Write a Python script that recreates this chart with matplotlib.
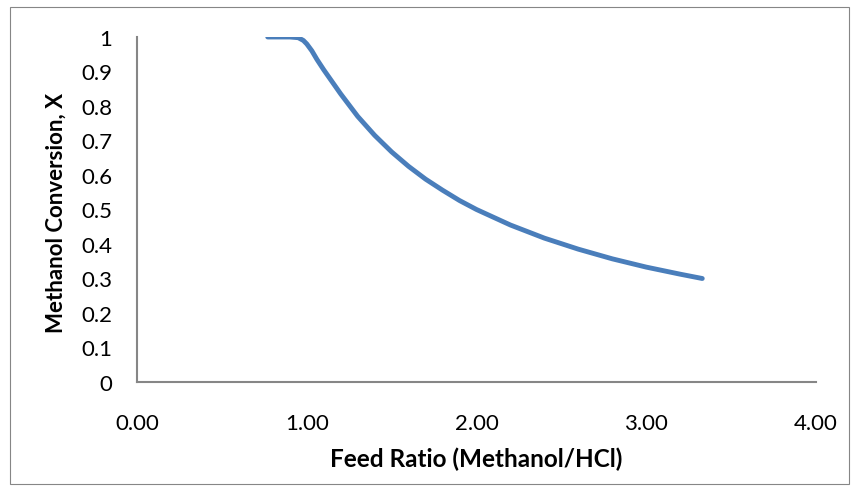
import matplotlib
matplotlib.use("Agg")
import matplotlib.pyplot as plt
from matplotlib.patches import Rectangle

# feed ratio (methanol/HCl) vs methanol conversion
feed_ratio = [0.77, 0.85, 0.90, 0.95, 0.98, 1.00, 1.03, 1.06, 1.10, 1.15, 1.20,
              1.30, 1.40, 1.50, 1.60, 1.70, 1.80, 1.90, 2.00, 2.20, 2.40, 2.60,
              2.80, 3.00, 3.20, 3.33]
conversion = [1.00, 1.00, 1.00, 0.998, 0.99, 0.98, 0.96, 0.935, 0.905, 0.87, 0.835,
              0.77, 0.715, 0.667, 0.625, 0.588, 0.556, 0.526, 0.50, 0.455, 0.417,
              0.385, 0.357, 0.333, 0.3125, 0.30]

x_ticks = [0, 1, 2, 3, 4]
y_ticks = [0, 0.1, 0.2, 0.3, 0.4, 0.5, 0.6, 0.7, 0.8, 0.9, 1.0]

plt.rcParams["font.family"] = ["Lato", "DejaVu Sans"]

W, H = 859, 489
fig = plt.figure(figsize=(W / 100, H / 100), dpi=100)
ax = fig.add_axes([137 / W, 1 - 383 / H, (816 - 137) / W, (383 - 38) / H])

# chart-area border
fig.patches.append(Rectangle((10 / W, 1 - 485 / H), 839 / W, 477 / H,
                             transform=fig.transFigure, fill=False,
                             edgecolor="#868686", linewidth=0.8))

ax.plot(feed_ratio, conversion, color="#4A7EBB", linewidth=3.5,
        solid_capstyle="round", solid_joinstyle="round")

ax.set_xlim(0, 4)
ax.set_ylim(0, 1)
ax.set_xticks(x_ticks)
ax.set_xticklabels([f"{v:.2f}" for v in x_ticks])
ax.set_yticks(y_ticks)
ax.set_yticklabels([f"{v:g}" for v in y_ticks])
ax.tick_params(axis="both", length=0, labelsize=16, colors="black")
ax.tick_params(axis="y", pad=18)
ax.tick_params(axis="x", pad=22)

for side in ("top", "right"):
    ax.spines[side].set_visible(False)
for side in ("left", "bottom"):
    ax.spines[side].set_color("#868686")
    ax.spines[side].set_linewidth(1.5)

ax.set_xlabel("Feed Ratio (Methanol/HCl)", fontsize=17.5, fontweight="bold",
              va="center")
ax.set_ylabel("Methanol Conversion, X", fontsize=16, fontweight="bold",
              va="center")
ax.xaxis.set_label_coords(0.5, -(459 - 383) / (383 - 38))
ax.yaxis.set_label_coords(-(137 - 56) / (816 - 137), (383 - 213) / (383 - 38))

fig.savefig("out.png", dpi=100)
